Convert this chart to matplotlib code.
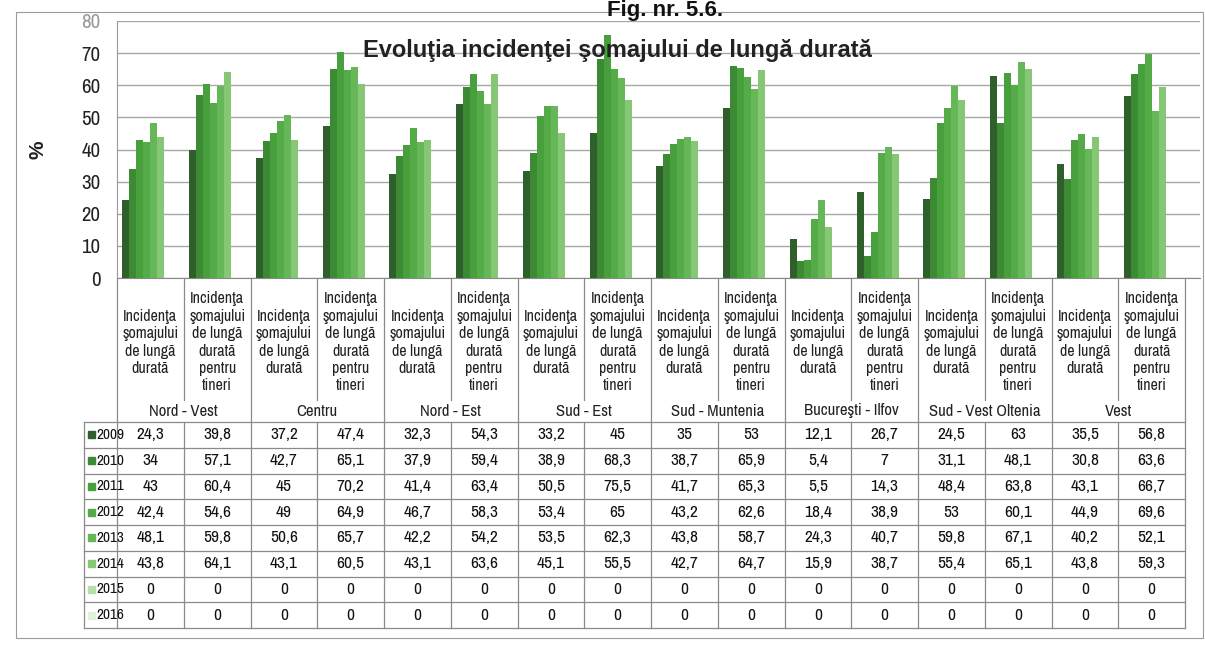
import matplotlib
matplotlib.use('Agg')
import matplotlib.pyplot as plt
import numpy as np
from matplotlib import font_manager
from matplotlib.patches import Rectangle

# Data: incidence of long-term unemployment (%) per region, 2009-2016
years = ['2009', '2010', '2011', '2012', '2013', '2014', '2015', '2016']
regions = ['Nord - Vest', 'Centru', 'Nord - Est', 'Sud - Est', 'Sud - Muntenia',
           'Bucureşti - Ilfov', 'Sud - Vest Oltenia', 'Vest']
lbl_total = 'Incidenţa\nşomajului\nde lungă\ndurată'
lbl_young = 'Incidenţa\nşomajului\nde lungă\ndurată\npentru\ntineri'
categories = [lbl for r in regions for lbl in (lbl_total, lbl_young)]

v2009 = [24.3, 39.8, 37.2, 47.4, 32.3, 54.3, 33.2, 45, 35, 53, 12.1, 26.7, 24.5, 63, 35.5, 56.8]
v2010 = [34, 57.1, 42.7, 65.1, 37.9, 59.4, 38.9, 68.3, 38.7, 65.9, 5.4, 7, 31.1, 48.1, 30.8, 63.6]
v2011 = [43, 60.4, 45, 70.2, 41.4, 63.4, 50.5, 75.5, 41.7, 65.3, 5.5, 14.3, 48.4, 63.8, 43.1, 66.7]
v2012 = [42.4, 54.6, 49, 64.9, 46.7, 58.3, 53.4, 65, 43.2, 62.6, 18.4, 38.9, 53, 60.1, 44.9, 69.6]
v2013 = [48.1, 59.8, 50.6, 65.7, 42.2, 54.2, 53.5, 62.3, 43.8, 58.7, 24.3, 40.7, 59.8, 67.1, 40.2, 52.1]
v2014 = [43.8, 64.1, 43.1, 60.5, 43.1, 63.6, 45.1, 55.5, 42.7, 64.7, 15.9, 38.7, 55.4, 65.1, 43.8, 59.3]
v2015 = [0] * 16
v2016 = [0] * 16
series = [v2009, v2010, v2011, v2012, v2013, v2014, v2015, v2016]

colors = ['#2f5f2a', '#3d8a34', '#47a03c', '#55ab48', '#66b757', '#85c775', '#b8deac', '#e1f1db']

# narrow sans for table and ticks (Arial Narrow look)
names = {f.name for f in font_manager.fontManager.ttflist}
narrow = next((n for n in ['Liberation Sans Narrow', 'Arial Narrow', 'Archivo Narrow']
               if n in names), 'DejaVu Sans')
NARROW = [narrow, 'DejaVu Sans']
plt.rcParams['font.family'] = NARROW

W, H = 1205, 645
fig = plt.figure(figsize=(W / 100, H / 100), dpi=100)

def fx(px):
    return px / W

def fy(py):
    return 1 - py / H

# layout in pixels
col_l, col_r = 117, 1185
ncol = len(categories)
colw = (col_r - col_l) / ncol
plot_top, plot_bot = 21, 278
tab_top, tab_bot = 279, 628

# bar chart
ax = fig.add_axes([fx(col_l), fy(plot_bot), fx(1200 - col_l), (plot_bot - plot_top) / H])
x = np.arange(ncol)
bw = 0.105
for i, (vals, c) in enumerate(zip(series, colors)):
    ax.bar(x + (i - 3.5) * bw, vals, bw, color=c, label=years[i], zorder=3)
ax.set_xlim(-0.5, ncol - 0.5 + (1200 - col_r) / colw)
ax.set_ylim(0, 80)
ax.set_yticks(range(0, 81, 10))
ax.set_xticks([])
ax.tick_params(axis='y', length=0, pad=12, labelsize=15, labelcolor='#222222')
ax.get_yticklabels()[-1].set_color('#999999')
ax.grid(axis='y', color='#a8a8a8', linewidth=1, zorder=0)
for s in ['top', 'right']:
    ax.spines[s].set_visible(False)
ax.spines['left'].set_color('#999999')
ax.spines['bottom'].set_color('#888888')
fig.text(fx(38), fy(150), '%', rotation=90, ha='center', va='center', fontsize=15,
         fontweight='bold', color='#222222', family=['Liberation Sans', 'DejaVu Sans'])

fig.text(fx(617), fy(57), 'Evoluţia incidenţei şomajului de lungă durată', ha='center',
         va='baseline', fontsize=17, fontweight='bold', color='#222222',
         family=['Liberation Sans', 'DejaVu Sans'])
fig.text(fx(665), fy(16), 'Fig. nr. 5.6.', ha='center', va='baseline', fontsize=16,
         fontweight='bold', color='#111111', family=['Liberation Sans', 'DejaVu Sans'])

# data table below the bars
tax = fig.add_axes([fx(col_l), fy(tab_bot), fx(col_r - col_l), (tab_bot - tab_top) / H])
tab_h = tab_bot - tab_top
tax.set_xlim(-0.5, ncol - 0.5)
tax.set_ylim(tab_h, 0)
tax.axis('off')
hdr_bot = 121
reg_bot = 143
row_h = (tab_h - reg_bot) / len(years)
lab_l = -0.5 - (col_l - 84) / colw
line_kw = dict(color='#8a8a8a', linewidth=0.9, clip_on=False)

# category headers
for j, lbl in enumerate(categories):
    tax.text(j, hdr_bot / 2 + 3, lbl, ha='center', va='center', fontsize=11.5,
             linespacing=1.2, color='#222222')
for j in range(ncol + 1):
    xb = j - 0.5
    if j % 2 == 0:
        tax.plot([xb, xb], [0, tab_h], **line_kw)
    else:
        tax.plot([xb, xb], [0, hdr_bot], **line_kw)
        tax.plot([xb, xb], [reg_bot, tab_h], **line_kw)
for k, r in enumerate(regions):
    tax.text(2 * k + 0.5, (hdr_bot + reg_bot) / 2, r, ha='center', va='center',
             fontsize=12, color='#222222')

# data rows
for i, (yr, vals, c) in enumerate(zip(years, series, colors)):
    yc = reg_bot + (i + 0.5) * row_h
    for j, v in enumerate(vals):
        tax.text(j, yc, f'{v:g}'.replace('.', ','), ha='center', va='center',
                 fontsize=12.5, color='#111111')
    tax.add_patch(Rectangle((lab_l + 0.06, yc - 3.5), 0.1, 7, color=c, clip_on=False))
    tax.text(lab_l + 0.18, yc, yr, ha='left', va='center', fontsize=11, color='#111111')
for i in range(len(years) + 1):
    yb = reg_bot + i * row_h
    tax.plot([lab_l, ncol - 0.5], [yb, yb], **line_kw)
tax.plot([lab_l, lab_l], [reg_bot, tab_h], **line_kw)

# outer frame of the chart
fig.patches.append(Rectangle((fx(16), fy(638)), fx(1203 - 16), (638 - 12) / H,
                             transform=fig.transFigure, fill=False,
                             edgecolor='#9a9a9a', linewidth=0.8))

plt.savefig('out.png', dpi=100)
